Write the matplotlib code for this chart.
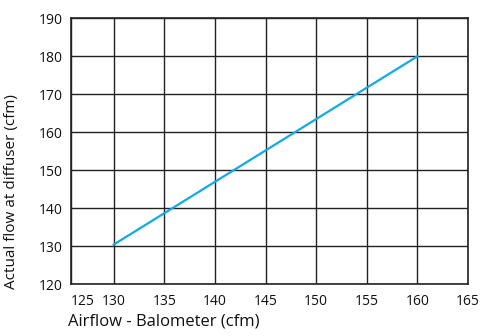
import matplotlib
matplotlib.use("Agg")
import matplotlib.pyplot as plt

x_vals = [130, 160]
y_vals = [130.5, 180]
x_ticks = [130, 135, 140, 145, 150, 155, 160, 165]
y_ticks = [120, 130, 140, 150, 160, 170, 180, 190]
x_first_label = "125"
x_label = "Airflow - Balometer (cfm)"
y_label = "Actual flow at diffuser (cfm)"

plt.rcParams['font.family'] = ['Open Sans', 'DejaVu Sans']

fig = plt.figure(figsize=(4.97, 3.36), dpi=100)
ax = fig.add_axes([0.1423, 0.1533, 0.7993, 0.7922])

xmin = 125.75
ax.set_xlim(xmin, 165)
ax.set_ylim(120, 190)

ax.set_xticks([xmin] + x_ticks)
ax.set_xticklabels([x_first_label] + [str(t) for t in x_ticks])
ax.set_yticks(y_ticks)
ax.set_yticklabels([str(t) for t in y_ticks])

ax.grid(True, color='#222222', linewidth=1.0)
ax.set_axisbelow(True)
for s in ax.spines.values():
    s.set_color('#222222')
    s.set_linewidth(1.2)

ax.tick_params(axis='both', length=0, labelsize=10, colors='#111111')
ax.tick_params(axis='x', pad=7)
ax.tick_params(axis='y', pad=6)
lbls = ax.get_xticklabels()
lbls[0].set_horizontalalignment('left')

ax.plot(x_vals, y_vals, color='#12a9e6', linewidth=1.6, zorder=3)

ax.set_xlabel(x_label, fontsize=12, color='#111111', ha='left')
ax.xaxis.set_label_coords(-0.007, -0.11)
ax.set_ylabel(y_label, fontsize=11, color='#111111')
ax.yaxis.set_label_coords(-0.13, 0.35)

fig.savefig("out.png", dpi=100)
